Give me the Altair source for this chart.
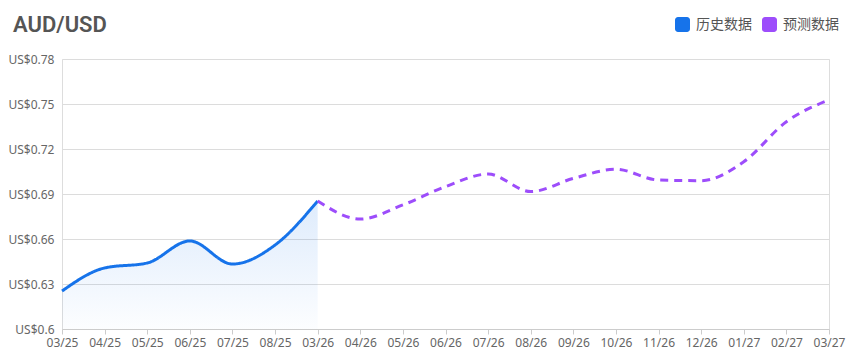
import altair as alt
import pandas as pd

hist_months = ["03/25", "04/25", "05/25", "06/25", "07/25", "08/25", "03/26"]
hist_values = [0.6253, 0.6407, 0.6440, 0.6587, 0.6433, 0.6560, 0.6853]

fc_months = ["03/26", "04/26", "05/26", "06/26", "07/26", "08/26", "09/26",
             "10/26", "11/26", "12/26", "01/27", "02/27", "03/27"]
fc_values = [0.6853, 0.6733, 0.6827, 0.6949, 0.7033, 0.6916, 0.7004,
             0.7065, 0.6993, 0.6989, 0.7115, 0.7382, 0.7527]

all_months = hist_months + fc_months[1:]
y_ticks = [0.6, 0.63, 0.66, 0.69, 0.72, 0.75, 0.78]
series_names = ["历史数据", "预测数据"]
series_colors = ["#1673ea", "#9d4dfb"]

df = pd.DataFrame(
    [{"month": m, "value": v, "series": series_names[0]} for m, v in zip(hist_months, hist_values)]
    + [{"month": m, "value": v, "series": series_names[1]} for m, v in zip(fc_months, fc_values)]
)

rounded_square = ("M-0.6,-1H0.6A0.4,0.4 0 0 1 1,-0.6V0.6A0.4,0.4 0 0 1 0.6,1"
                  "H-0.6A0.4,0.4 0 0 1 -1,0.6V-0.6A0.4,0.4 0 0 1 -0.6,-1Z")

x_enc = alt.X(
    "month:N",
    sort=all_months,
    scale=alt.Scale(type="point", padding=0, domain=all_months),
    axis=alt.Axis(
        title=None, labelAngle=0, grid=False, labelFontSize=12, labelColor="#666",
        labelFont="Noto Sans", tickColor="#ccc", domainColor="#ccc", tickSize=5,
        labelPadding=3, labelOverlap=False,
    ),
)
y_enc = alt.Y(
    "value:Q",
    scale=alt.Scale(domain=[0.6, 0.78], nice=False, zero=False),
    axis=alt.Axis(
        title=None, values=y_ticks, labelExpr="'US$' + format(datum.value, '.2~f')",
        domain=False, ticks=False, gridColor="#dcdcdc", labelFontSize=12,
        labelColor="#666", labelFont="Noto Sans", labelPadding=8,
    ),
)

color_scale = alt.Scale(domain=series_names, range=series_colors)

legend_layer = alt.Chart(df).mark_point(filled=True, opacity=0).encode(
    x=x_enc, y=y_enc,
    color=alt.Color(
        "series:N", scale=color_scale,
        legend=alt.Legend(
            title=None, orient="none", legendX=613, legendY=-42, direction="horizontal",
            symbolType=rounded_square, symbolSize=225, symbolOpacity=1, symbolStrokeWidth=0,
            labelFont="Noto Sans CJK SC", labelFontSize=14, labelColor="#555",
            labelOffset=6, columnPadding=10, padding=0,
        ),
    ),
)

area_layer = alt.Chart(df).transform_filter(
    alt.datum.series == series_names[0]
).mark_area(
    interpolate="monotone",
    color=alt.Gradient(
        gradient="linear",
        stops=[
            alt.GradientStop(color="rgba(22,115,234,0.14)", offset=0),
            alt.GradientStop(color="rgba(22,115,234,0.01)", offset=1),
        ],
        x1=1, x2=1, y1=0, y2=1,
    ),
).encode(x=x_enc, y=y_enc, y2=alt.datum(0.6))

line_layer = alt.Chart(df).mark_line(interpolate="monotone", strokeWidth=3).encode(
    x=x_enc, y=y_enc,
    color=alt.Color("series:N", scale=color_scale, legend=None),
    strokeDash=alt.StrokeDash(
        "series:N", scale=alt.Scale(domain=series_names, range=[[1, 0], [8, 6]]), legend=None
    ),
)

chart = alt.layer(legend_layer, area_layer, line_layer).properties(
    width=767, height=270,
    autosize=alt.AutoSizeParams(type="none"),
    padding={"left": 62, "top": 59, "right": 22, "bottom": 32},
    title=alt.TitleParams(
        "AUD/USD", anchor="start", frame="group", dx=-49, offset=0, dy=20,
        fontSize=22, font="Roboto", fontWeight=600, color="#555",
    ),
).configure_view(stroke=None).configure(background="white")

chart.save("out.html", embed_options={"renderer": "svg", "actions": False})
